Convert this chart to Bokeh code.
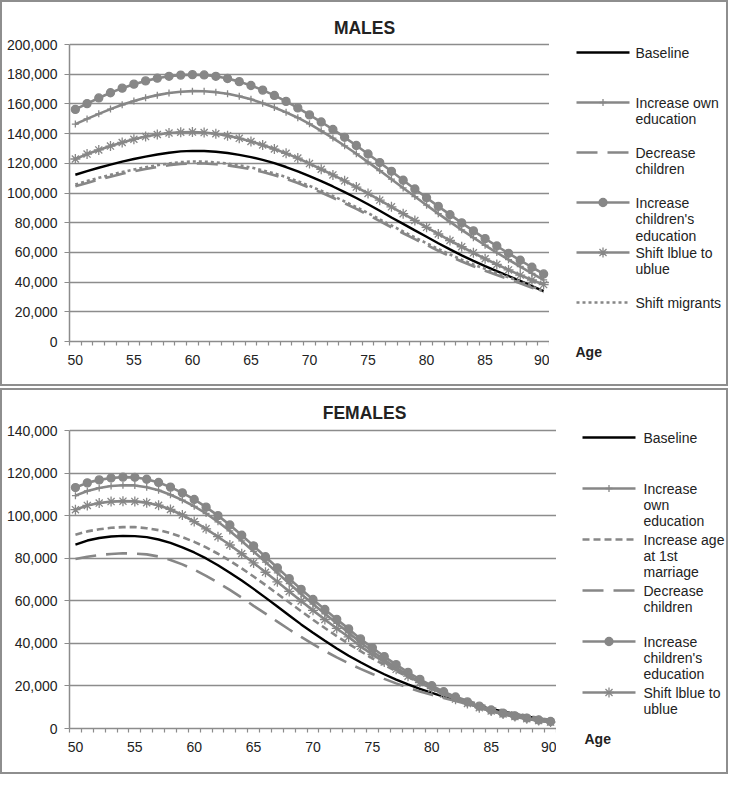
from bokeh.plotting import figure
from bokeh.models import (Range1d, FixedTicker, NumeralTickFormatter, Label, Title,
                          ColumnDataSource)
from bokeh.layouts import column, row
from bokeh.embed import file_html
from bokeh.resources import INLINE

# ---------------- data ----------------
ages = list(range(50, 91))
x_label_ticks = [50, 55, 60, 65, 70, 75, 80, 85, 90]
male_y_ticks = [0, 20000, 40000, 60000, 80000, 100000, 120000, 140000, 160000, 180000, 200000]
female_y_ticks = [0, 20000, 40000, 60000, 80000, 100000, 120000, 140000]

m_baseline = [112300, 114700, 117000, 119100, 121100, 122900, 124500, 125900, 127100, 128000,
              128400, 128300, 127800, 126900, 125700, 124200, 122300, 120100, 117500, 114600,
              111400, 108000, 104400, 100600, 96600, 92400, 88000, 83500, 79200, 74800,
              70500, 66200, 62000, 58000, 54300, 50800, 47400, 44100, 40800, 37300,
              33900]
m_own_edu = [146400, 149900, 153300, 156500, 159400, 161900, 164100, 165900, 167300, 168200,
             168600, 168500, 167900, 166800, 165200, 163100, 160500, 157600, 154300, 150700,
             146600, 141900, 137000, 131800, 126400, 120800, 115100, 109300, 103400, 97600,
             91800, 86100, 80600, 75200, 69900, 64800, 59900, 55100, 50500, 45900,
             41500]
m_decrease = [104500, 106800, 109000, 111000, 112900, 114600, 116200, 117500, 118700, 119600,
              120000, 119900, 119400, 118600, 117400, 116000, 114100, 112000, 109500, 106700,
              103600, 100300, 96800, 93100, 89300, 85300, 81100, 76900, 72900, 68900,
              65000, 61100, 57400, 53900, 50700, 47700, 44800, 42000, 39200, 36200,
              33300]
m_child_edu = [156300, 160200, 164000, 167500, 170600, 173300, 175500, 177300, 178600, 179400,
               179700, 179500, 178600, 177100, 175000, 172400, 169300, 165700, 161700, 157300,
               152600, 147800, 142800, 137500, 132000, 126300, 120500, 114600, 108600, 102700,
               96800, 91000, 85400, 79900, 74500, 69300, 64300, 59400, 54700, 50000,
               45500]
m_shift_blue = [122900, 126200, 129000, 131600, 134000, 136200, 138000, 139400, 140400, 140900,
                141000, 140700, 139900, 138600, 136800, 134700, 132300, 129600, 126700, 123500,
                119800, 116000, 112200, 108200, 104000, 99700, 95200, 90700, 86100, 81500,
                76900, 72400, 68000, 63800, 59700, 55700, 51900, 48200, 44700, 41400,
                38300]
m_migrants = [105700, 108000, 110200, 112200, 114100, 115800, 117400, 118700, 119900, 120800,
              121200, 121100, 120600, 119800, 118600, 117200, 115300, 113200, 110700, 107900,
              104800, 101500, 98000, 94300, 90500, 86500, 82300, 78100, 74100, 70100,
              66200, 62300, 58600, 55100, 51900, 48900, 46000, 43200, 40400, 37000,
              33600]

f_baseline = [86400, 88300, 89500, 90200, 90500, 90400, 89900, 88800, 87200, 85100,
              82700, 79900, 76700, 73200, 69500, 65600, 61500, 57300, 53100, 48900,
              45000, 41200, 37600, 34200, 31100, 28200, 25500, 23000, 20700, 18600,
              16700, 15000, 13400, 11900, 10500, 9200, 8000, 6800, 5700, 4700,
              3800]
f_own_edu = [109400, 111600, 113000, 113900, 114300, 114200, 113300, 111900, 109800, 107300,
             104400, 101000, 97100, 92800, 88100, 83200, 78200, 73100, 68100, 63200,
             58500, 53900, 49400, 45000, 40400, 36300, 32300, 28600, 25100, 21900,
             19000, 16300, 13900, 11700, 9800, 8100, 6700, 5400, 4500, 3600,
             3000]
f_marriage = [91000, 92600, 93600, 94300, 94600, 94600, 94100, 93200, 91800, 89900,
              87700, 85100, 82100, 78800, 75200, 71400, 67400, 63300, 59200, 55100,
              51100, 47200, 43400, 39800, 36300, 33000, 29900, 27000, 24200, 21600,
              19200, 16900, 14900, 13000, 11400, 9900, 8500, 7200, 6000, 5000,
              4000]
f_decrease = [79600, 80700, 81500, 82000, 82300, 82200, 81800, 80800, 79200, 77100,
              74600, 71700, 68500, 65100, 61500, 57600, 54000, 50200, 46500, 43000,
              39600, 36400, 33400, 30600, 28000, 25600, 23300, 21200, 19200, 17400,
              15800, 14300, 12900, 11500, 10200, 9000, 7800, 6700, 5700, 4700,
              3800]
f_child_edu = [113200, 115400, 116800, 117700, 118100, 118000, 117100, 115600, 113400, 110700,
               107600, 104000, 100000, 95600, 90800, 85800, 80700, 75500, 70400, 65400,
               60600, 55900, 51300, 46800, 42100, 37900, 33800, 30000, 26400, 23100,
               20100, 17300, 14800, 12500, 10500, 8700, 7200, 5900, 4900, 4000,
               3300]
f_shift_blue = [102800, 104800, 105900, 106600, 106800, 106700, 106100, 104900, 102900, 100300,
                97200, 93800, 90100, 86200, 82100, 77800, 73400, 68900, 64400, 59900,
                55500, 51200, 47000, 43000, 38600, 34800, 31200, 27800, 24600, 21600,
                18800, 16200, 13800, 11700, 9800, 8200, 6800, 5600, 4600, 3700,
                3000]

# ---------------- style ----------------
GRAY = "#878787"
GRID = "#8c8c8c"
TEXT = "#222222"
FONT = "Liberation Sans"

STYLES = {
    "baseline":   dict(color="#000000", dash="solid", marker=None, width=2.4),
    "own_edu":    dict(color=GRAY, dash="solid", marker="cross", width=2.6),
    "marriage":   dict(color=GRAY, dash="7 4", marker=None, width=2.6),
    "decrease":   dict(color=GRAY, dash="21 10", marker=None, width=2.6),
    "child_edu":  dict(color=GRAY, dash="solid", marker="circle", width=2.6),
    "shift_blue": dict(color=GRAY, dash="solid", marker="asterisk", width=2.6),
    "migrants":   dict(color=GRAY, dash="3 3", marker=None, width=2.6),
}
MARKER_SIZE = {"cross": 7, "circle": 8, "asterisk": 10}

PANEL_H = 382          # inner height of a panel (without its 2px border)
PANEL_W = 724
KEY_W = 53             # length of a legend key line


def draw_line(p, key, **kw):
    st = STYLES[key]
    p.line(line_color=st["color"], line_width=st["width"], line_dash=st["dash"], **kw)


def draw_marker(p, key, **kw):
    st = STYLES[key]
    if st["marker"]:
        p.scatter(marker=st["marker"], size=MARKER_SIZE[st["marker"]],
                  line_color=st["color"], fill_color=st["color"], line_width=1.3, **kw)


def build_panel(title, data, series, ymax, yticks, main_w, bl, bb, frame_h_data,
                title_xy, key_x, g0, step, text_x, line_step, age_x, age_standoff):
    frame_h = PANEL_H - bb
    # ----- main chart (frame reaches the panel top; y axis bounded to the data range)
    p = figure(width=main_w, height=PANEL_H, x_range=Range1d(49.5, 90.5),
               y_range=Range1d(0, ymax * frame_h / frame_h_data),
               output_backend="svg", toolbar_location=None,
               min_border_left=bl, min_border_right=0, min_border_top=0, min_border_bottom=bb)
    p.title.visible = False
    p.outline_line_color = None
    p.border_fill_color = "white"

    p.xaxis.ticker = FixedTicker(ticks=x_label_ticks,
                                 minor_ticks=[a - 0.5 for a in ages] + [ages[-1] + 0.5])
    p.xaxis.major_tick_out = 0
    p.xaxis.major_tick_in = 0
    p.xaxis.minor_tick_out = 4
    p.xaxis.minor_tick_in = 0
    p.xaxis.minor_tick_line_color = GRID
    p.xaxis.minor_tick_line_width = 1.2
    p.xaxis.axis_line_color = GRID
    p.xaxis.axis_line_width = 1.5
    p.xaxis.major_label_standoff = 9
    p.yaxis.ticker = FixedTicker(ticks=yticks)
    p.yaxis.bounds = (0, ymax)
    p.yaxis.formatter = NumeralTickFormatter(format="0,0")
    p.yaxis.major_tick_out = 5
    p.yaxis.major_tick_in = 0
    p.yaxis.minor_tick_out = 0
    p.yaxis.minor_tick_in = 0
    p.yaxis.major_tick_line_color = GRID
    p.yaxis.major_tick_line_width = 1.2
    p.yaxis.axis_line_color = GRID
    p.yaxis.axis_line_width = 1.5
    p.yaxis.major_label_standoff = 7
    for ax in (p.xaxis, p.yaxis):
        ax.major_label_text_font = FONT
        ax.major_label_text_font_size = "14px"
        ax.major_label_text_color = TEXT
    p.xgrid.visible = False
    p.ygrid.grid_line_color = GRID
    p.ygrid.grid_line_width = 1.5

    src = ColumnDataSource(data)
    for key, lines in series:
        draw_line(p, key, x="age", y=key, source=src)
        draw_marker(p, key, x="age", y=key, source=src)

    p.add_layout(Label(x=title_xy[0], y=title_xy[1], x_units="screen", y_units="screen",
                       text=title, text_font=FONT, text_font_size="17.5px",
                       text_font_style="bold", text_color=TEXT,
                       text_align="center", text_baseline="middle"))

    # ----- side area (legend + "Age"); its frame is aligned with the main frame
    side_w = PANEL_W - main_w
    s = figure(width=side_w, height=PANEL_H, x_range=Range1d(0, side_w),
               y_range=Range1d(0, frame_h),
               output_backend="svg", toolbar_location=None,
               x_axis_type=None, y_axis_type=None,
               min_border_left=0, min_border_right=0, min_border_top=0, min_border_bottom=0)
    s.title.visible = False
    s.outline_line_color = None
    s.xgrid.visible = False
    s.ygrid.visible = False
    s.border_fill_color = "white"

    for i, (key, lines) in enumerate(series):
        ky = frame_h - (g0 + i * step)
        draw_line(s, key, x=[key_x, key_x + KEY_W], y=[ky, ky])
        draw_marker(s, key, x=[key_x + KEY_W / 2], y=[ky])
        for k, txt in enumerate(lines):
            s.add_layout(Label(x=text_x, y=ky - k * line_step, x_units="screen",
                               y_units="screen", text=txt, text_font=FONT,
                               text_font_size="14px", text_color=TEXT,
                               text_align="left", text_baseline="middle"))
    s.add_layout(Title(text="Age", align="left", offset=age_x, standoff=age_standoff,
                       vertical_align="top", text_font=FONT, text_font_size="14px",
                       text_font_style="bold", text_color=TEXT), "below")

    r = row(p, s, spacing=0)
    r.styles = {"border": "2px solid #8e8e8e"}
    return r


male_data = dict(age=ages, baseline=m_baseline, own_edu=m_own_edu, decrease=m_decrease,
                 child_edu=m_child_edu, shift_blue=m_shift_blue, migrants=m_migrants)
male_series = [
    ("baseline", ["Baseline"]),
    ("own_edu", ["Increase own", "education"]),
    ("decrease", ["Decrease", "children"]),
    ("child_edu", ["Increase", "children's", "education"]),
    ("shift_blue", ["Shift lblue to", "ublue"]),
    ("migrants", ["Shift migrants"]),
]
female_data = dict(age=ages, baseline=f_baseline, own_edu=f_own_edu, marriage=f_marriage,
                   decrease=f_decrease, child_edu=f_child_edu, shift_blue=f_shift_blue)
female_series = [
    ("baseline", ["Baseline"]),
    ("own_edu", ["Increase", "own", "education"]),
    ("marriage", ["Increase age", "at 1st", "marriage"]),
    ("decrease", ["Decrease", "children"]),
    ("child_edu", ["Increase", "children's", "education"]),
    ("shift_blue", ["Shift lblue to", "ublue"]),
]

top = build_panel("MALES", male_data, male_series, 200000, male_y_ticks,
                  main_w=547, bl=67, bb=43, frame_h_data=297,
                  title_xy=(295, 314), key_x=27, g0=50, step=50,
                  text_x=86, line_step=16.5, age_x=26, age_standoff=4)
bottom = build_panel("FEMALES", female_data, female_series, 140000, female_y_ticks,
                     main_w=554, bl=67, bb=44, frame_h_data=298,
                     title_xy=(295, 315.5), key_x=26, g0=47, step=51,
                     text_x=87, line_step=16.4, age_x=28, age_standoff=5)

layout = column(top, bottom, spacing=2)
open("out.html", "w").write(file_html(layout, INLINE))
